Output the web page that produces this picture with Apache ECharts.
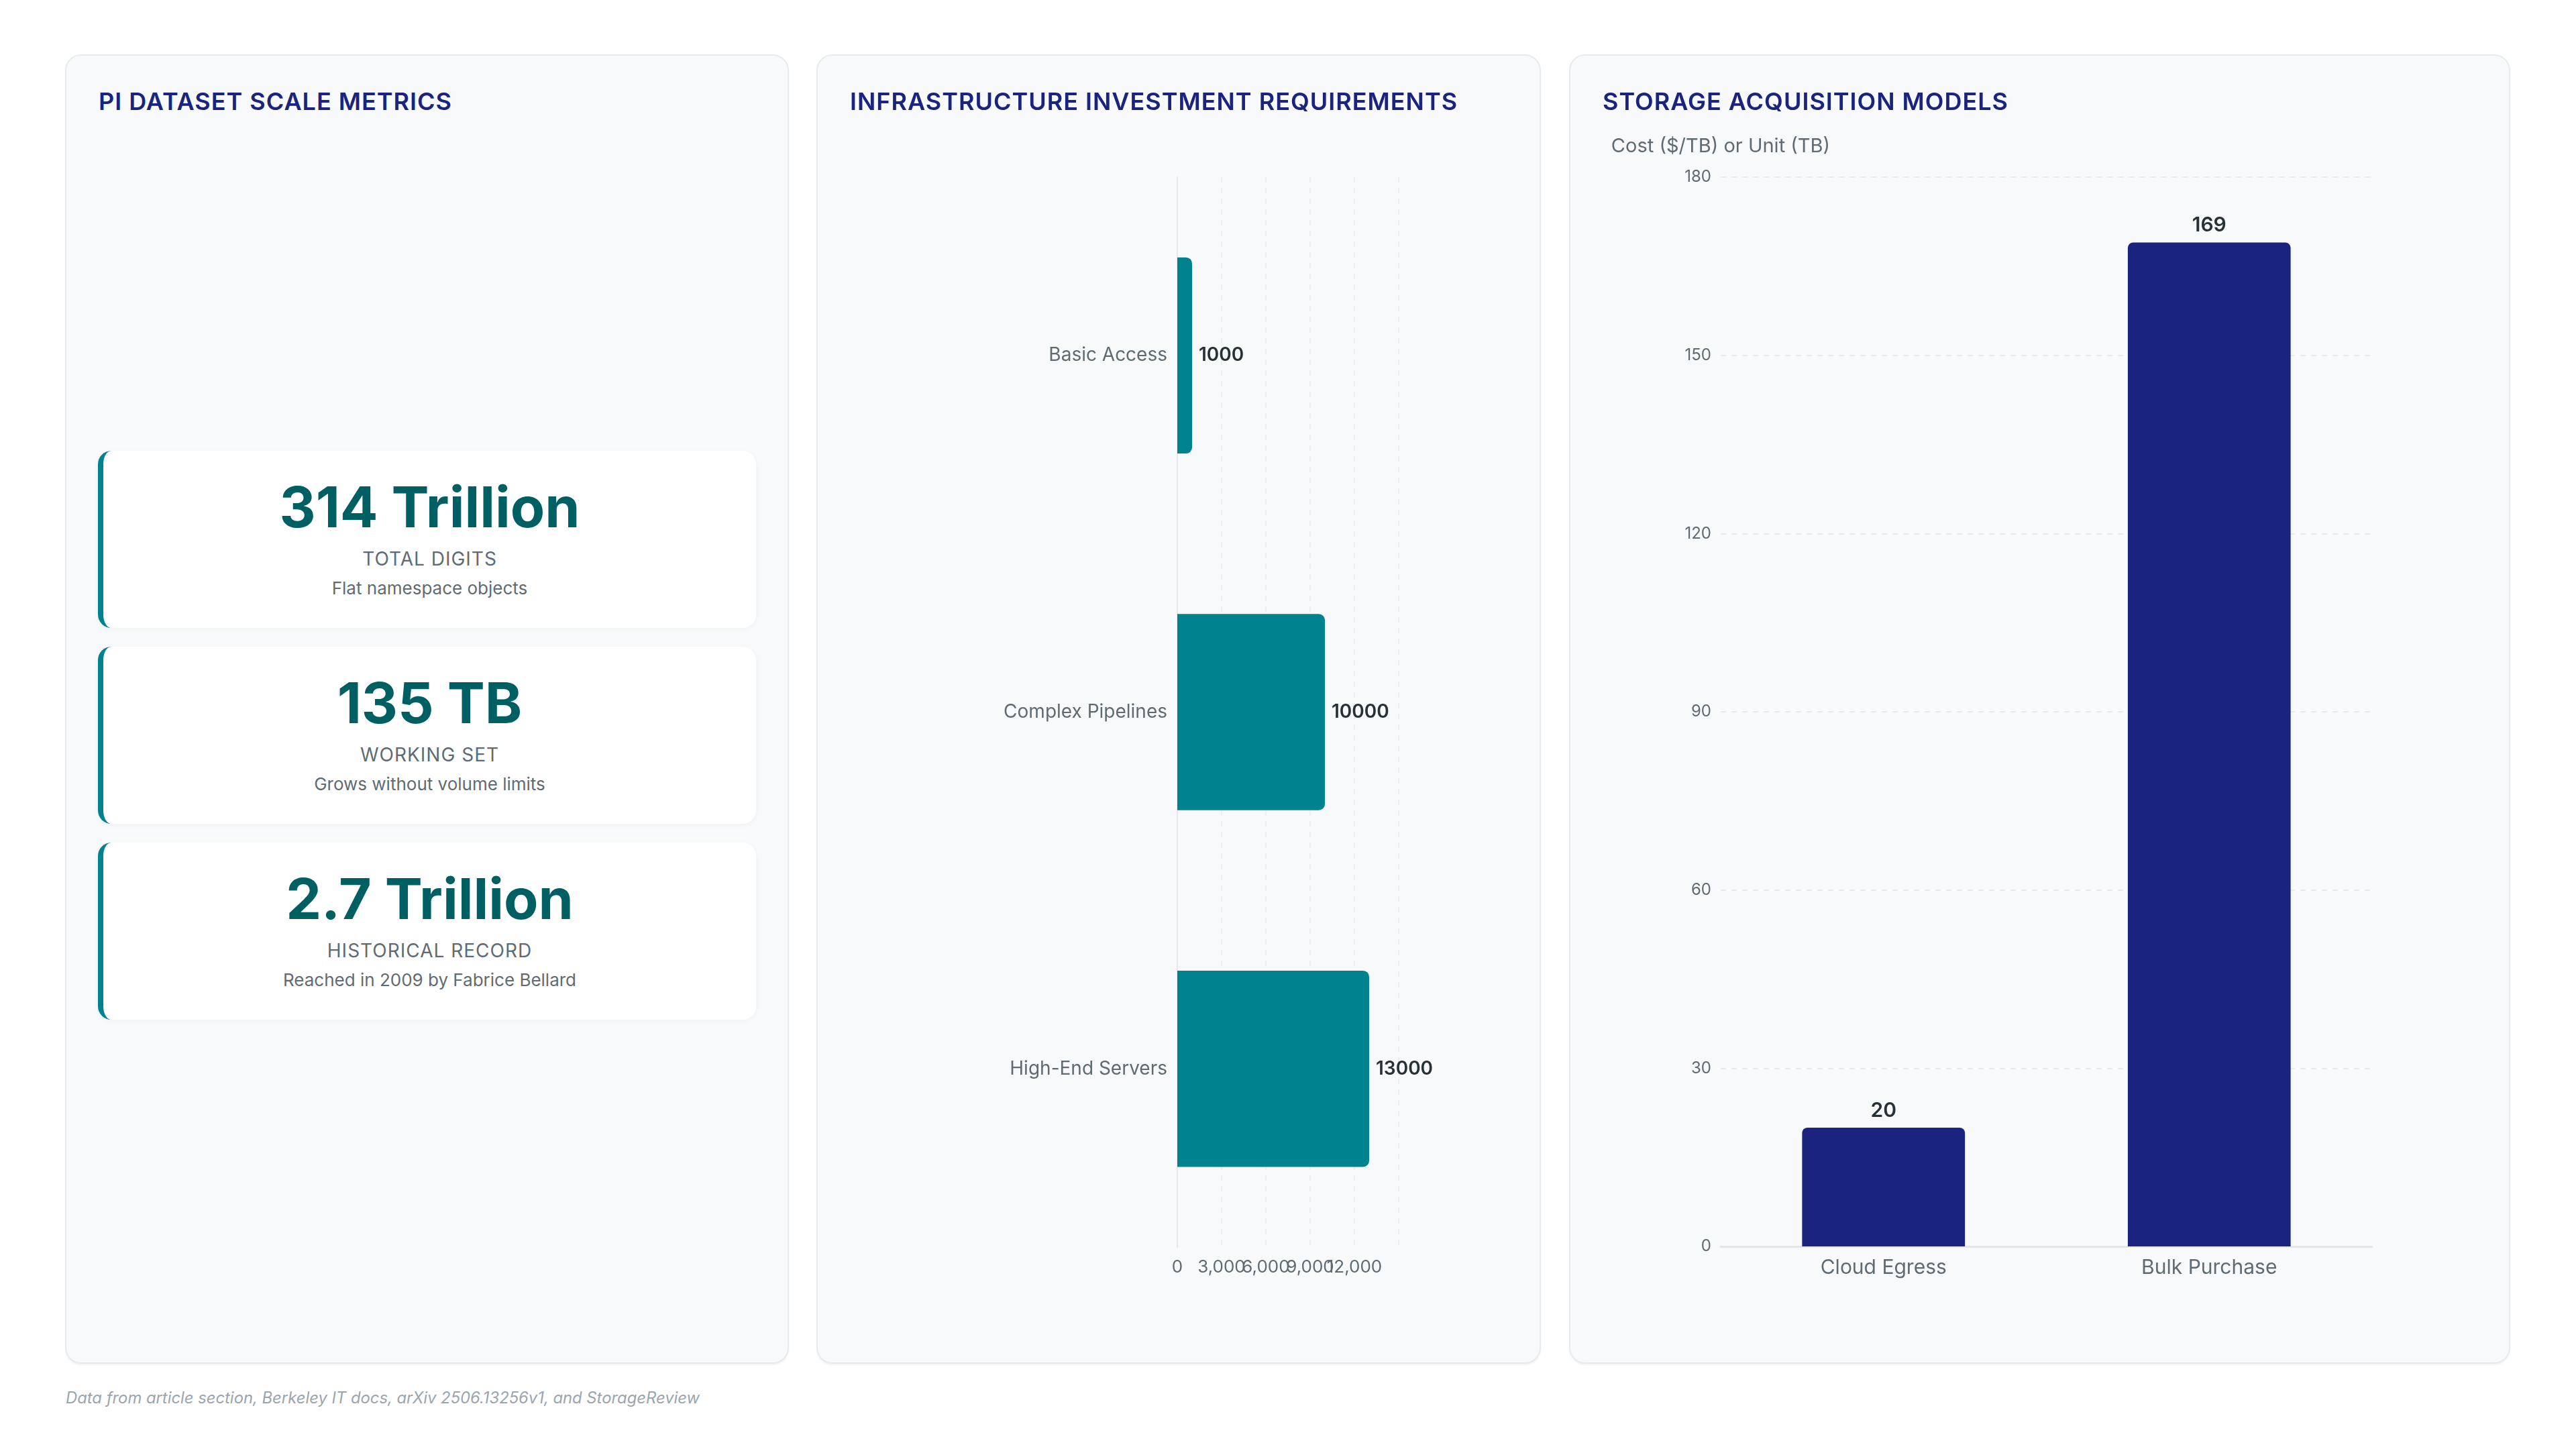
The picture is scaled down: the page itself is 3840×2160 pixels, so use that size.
<!DOCTYPE html>
<html>
<head>
<meta charset="utf-8">
<script src="https://cdn.jsdelivr.net/npm/echarts@6/dist/echarts.min.js"></script>
<style>
  html, body { margin: 0; padding: 0; background: #ffffff; }
  body { width: 3840px; height: 2160px; position: relative; overflow: hidden; font-family: Inter, "Noto Sans", sans-serif; }
  .panel { position: absolute; top: 81px; height: 1952px; box-sizing: border-box; background: #f8f9fb; border: 2px solid #e8ebee; border-radius: 24px; box-shadow: 0 2px 3px rgba(0,0,0,0.05); }
  .ptitle { position: absolute; left: 48px; top: 50px; font-size: 36px; line-height: 36px; font-weight: 600; letter-spacing: 1px; color: #1a237e; white-space: nowrap; z-index: 2; }
  .chart { position: absolute; left: -2px; top: -2px; }
  .card { position: absolute; left: 47px; width: 981px; height: 264px; box-sizing: border-box; background: #ffffff; border-left: 8px solid #00838f; border-radius: 20px; box-shadow: 0 2px 8px rgba(0,0,0,0.035); }
  .kv { position: absolute; left: 0; right: 0; text-align: center; white-space: nowrap; }
  .val { top: 42px; font-size: 84px; line-height: 84px; font-weight: 700; color: #005f63; }
  .lab { top: 147px; font-size: 28px; line-height: 28px; font-weight: 400; color: #5f6b73; letter-spacing: 1px; }
  .note { top: 192px; font-size: 26px; line-height: 26px; color: #5f6b73; }
  .footer { position: absolute; left: 98px; top: 2072px; font-size: 23.8px; line-height: 24px; font-style: italic; color: #9aa5ae; white-space: nowrap; }
</style>
</head>
<body>
<div class="panel" id="p1" style="left:97px;width:1079px;">
  <div class="ptitle">PI DATASET SCALE METRICS</div>
</div>
<div class="panel" id="p2" style="left:1217px;width:1080px;">
  <div class="ptitle">INFRASTRUCTURE INVESTMENT REQUIREMENTS</div>
  <div class="chart" id="c2" style="width:1080px;height:1952px;"></div>
</div>
<div class="panel" id="p3" style="left:2339px;width:1403px;">
  <div class="ptitle">STORAGE ACQUISITION MODELS</div>
  <div class="chart" id="c3" style="width:1403px;height:1952px;"></div>
</div>
<div class="footer">Data from article section, Berkeley IT docs, arXiv 2506.13256v1, and StorageReview</div>

<script>
// ---- Data ----
const kpiValues = ['314 Trillion', '135 TB', '2.7 Trillion'];
const kpiLabels = ['TOTAL DIGITS', 'WORKING SET', 'HISTORICAL RECORD'];
const kpiNotes = ['Flat namespace objects', 'Grows without volume limits', 'Reached in 2009 by Fabrice Bellard'];

const investCategories = ['Basic Access', 'Complex Pipelines', 'High-End Servers'];
const investValues = [1000, 10000, 13000];
const investAxisMax = 15000;
const investAxisStep = 3000;

const storageCategories = ['Cloud Egress', 'Bulk Purchase'];
const storageValues = [20, 169];
const storageAxisName = 'Cost ($/TB) or Unit (TB)';
const storageAxisMax = 180;
const storageAxisStep = 30;

// ---- KPI cards ----
const p1 = document.getElementById('p1');
const cardTops = [589, 881, 1173];
kpiValues.forEach(function (v, i) {
  const card = document.createElement('div');
  card.className = 'card';
  card.style.top = cardTops[i] + 'px';
  const a = document.createElement('div'); a.className = 'kv val'; a.textContent = v;
  const b = document.createElement('div'); b.className = 'kv lab'; b.textContent = kpiLabels[i];
  const c = document.createElement('div'); c.className = 'kv note'; c.textContent = kpiNotes[i];
  card.appendChild(a); card.appendChild(b); card.appendChild(c);
  p1.appendChild(card);
});

const FONT = 'Inter, "Noto Sans", sans-serif';
const GREY = '#5f6b73';

// ---- Chart 2: horizontal bars ----
const c2 = echarts.init(document.getElementById('c2'), null, { renderer: 'canvas' });
c2.setOption({
  animation: false,
  textStyle: { fontFamily: FONT },
  grid: { left: 538, right: 212, top: 183, bottom: 174 },
  xAxis: {
    type: 'value', min: 0, max: investAxisMax, interval: investAxisStep,
    axisLine: { show: false }, axisTick: { show: false },
    axisLabel: { fontSize: 26, color: GREY, margin: 17, fontFamily: FONT, showMaxLabel: false },
    splitLine: { show: true, lineStyle: { color: '#eceef1', width: 2, type: [8, 8] } }
  },
  yAxis: {
    type: 'category', data: investCategories, inverse: true,
    axisLine: { show: true, lineStyle: { color: '#e6e8eb', width: 2 } },
    axisTick: { show: false },
    axisLabel: { fontSize: 28, color: GREY, margin: 15, fontFamily: FONT }
  },
  series: [{
    type: 'bar', data: investValues, barWidth: '55%',
    itemStyle: { color: '#00838f', borderRadius: [0, 9, 9, 0] },
    label: { show: true, position: 'right', distance: 10, fontSize: 28, fontWeight: 600, color: '#263238', fontFamily: FONT }
  }]
});

// ---- Chart 3: vertical bars ----
const c3 = echarts.init(document.getElementById('c3'), null, { renderer: 'canvas' });
c3.setOption({
  animation: false,
  textStyle: { fontFamily: FONT },
  grid: { left: 226, right: 206, top: 183, bottom: 175 },
  xAxis: {
    type: 'category', data: storageCategories,
    axisLine: { show: true, lineStyle: { color: '#e4e6e9', width: 3 } },
    axisTick: { show: false },
    axisLabel: { fontSize: 30, color: GREY, margin: 17, fontFamily: FONT }
  },
  yAxis: {
    type: 'value', min: 0, max: storageAxisMax, interval: storageAxisStep,
    name: storageAxisName, nameGap: 31,
    nameTextStyle: { fontSize: 29, color: GREY, fontFamily: FONT },
    axisLine: { show: false }, axisTick: { show: false },
    axisLabel: { fontSize: 24, color: GREY, margin: 14, fontFamily: FONT },
    splitLine: { show: true, lineStyle: { color: '#e8eaed', width: 2, type: [8, 8] } }
  },
  series: [{
    type: 'bar', data: storageValues, barWidth: '50%',
    itemStyle: { color: '#1a237e', borderRadius: [8, 8, 0, 0] },
    label: { show: true, position: 'top', distance: 10, fontSize: 30, fontWeight: 600, color: '#263238', fontFamily: FONT }
  }]
});
</script>
</body>
</html>
